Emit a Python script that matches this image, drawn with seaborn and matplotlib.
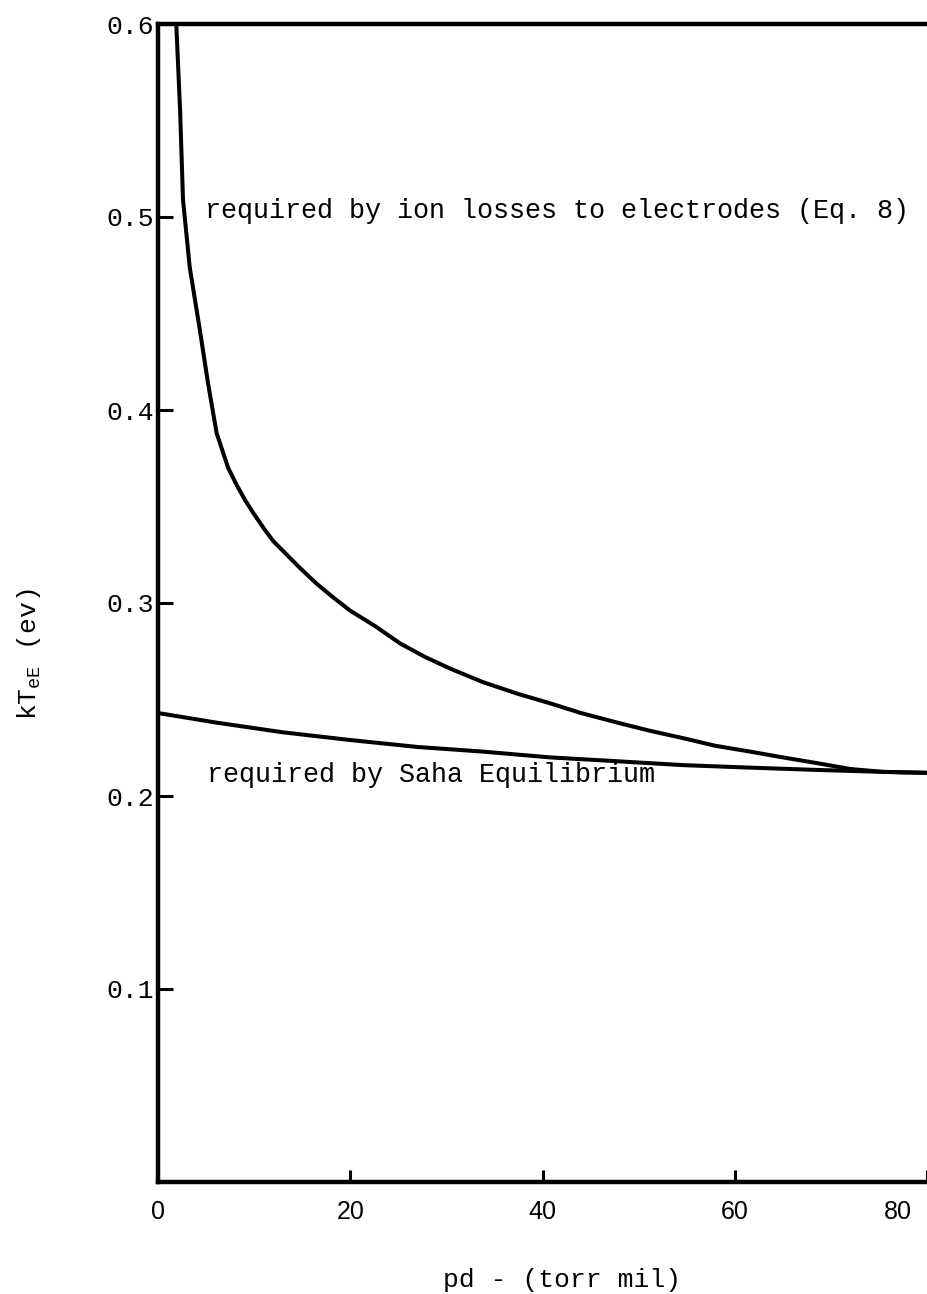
import numpy as np
import pandas as pd
import matplotlib
matplotlib.use("Agg")
import matplotlib.pyplot as plt
import matplotlib.transforms as mtransforms
import seaborn as sns

# ---- data ----
ion_pd = [1.9, 2.3, 2.6, 3.3, 4.4, 5.2, 6.1, 7.3, 8.2, 9.1, 10.0, 11.1, 12.0,
          13.0, 14.8, 16.5, 18.2, 20.0, 22.6, 25.2, 27.8, 30.4, 33.8, 37.4,
          40.8, 44.0, 47.8, 51.0, 54.6, 58.0, 61.6, 65.0, 68.6, 72.0, 75.4, 80.0]
ion_kt = [0.600, 0.555, 0.509, 0.474, 0.440, 0.414, 0.388, 0.370, 0.361, 0.353,
          0.346, 0.338, 0.332, 0.327, 0.318, 0.310, 0.303, 0.296, 0.288, 0.279,
          0.272, 0.266, 0.259, 0.253, 0.248, 0.243, 0.238, 0.234, 0.230, 0.226,
          0.223, 0.220, 0.217, 0.214, 0.2125, 0.212]

saha_pd = [0.0, 6.1, 13.0, 20.0, 27.0, 33.8, 40.8, 47.8, 54.6, 61.6, 68.6, 75.4, 80.0]
saha_kt = [0.243, 0.238, 0.233, 0.229, 0.2254, 0.223, 0.220, 0.218, 0.216,
           0.2147, 0.2135, 0.2125, 0.212]

x_ticks = [0, 20, 40, 60, 80]
x_tick_labels = ["0", "20", "40", "60", "80"]
y_ticks = [0.1, 0.2, 0.3, 0.4, 0.5, 0.6]
y_tick_labels = ["0.1", "0.2", "0.3", "0.4", "0.5", "0.6"]

ion_label = "required by ion losses to electrodes (Eq. 8)"
saha_label = "required by Saha Equilibrium"
x_title = "pd - (torr mil)"
y_title = r"kT$_{\rm eE}$ (ev)"

# ---- styling ----
sns.set_theme(style="white")
plt.rcParams["font.family"] = ["Liberation Mono", "DejaVu Sans"]
plt.rcParams["mathtext.fontset"] = "custom"
plt.rcParams["mathtext.rm"] = "Liberation Mono"
plt.rcParams["mathtext.it"] = "Liberation Mono"
plt.rcParams["mathtext.bf"] = "Liberation Mono:bold"
plt.rcParams["mathtext.default"] = "rm"
plt.rcParams["text.color"] = "black"
plt.rcParams["axes.labelcolor"] = "black"
plt.rcParams["xtick.color"] = "black"
plt.rcParams["ytick.color"] = "black"

df = pd.concat([
    pd.DataFrame({"pd": ion_pd, "kT": ion_kt, "curve": "ion"}),
    pd.DataFrame({"pd": saha_pd, "kT": saha_kt, "curve": "saha"}),
], ignore_index=True)

W, H = 927, 1294
fig = plt.figure(figsize=(W / 100, H / 100), dpi=100)
fig.patch.set_facecolor("white")
ax = fig.add_axes([158 / W, 112 / H, 769 / W, 1158 / H])
ax.set_facecolor("white")

sns.lineplot(data=df, x="pd", y="kT", units="curve", estimator=None, sort=False,
             color="black", linewidth=2.9, ax=ax, legend=False)
for line in ax.get_lines():
    line.set_solid_joinstyle("round")
    line.set_solid_capstyle("round")

ax.set_xlim(0, 80)
ax.set_ylim(0, 0.6)

for side in ["left", "top", "bottom"]:
    ax.spines[side].set_visible(True)
    ax.spines[side].set_color("black")
    ax.spines[side].set_linewidth(3.2)
ax.spines["right"].set_visible(False)

ax.set_xticks(x_ticks)
ax.set_xticklabels(x_tick_labels)
ax.set_yticks(y_ticks)
ax.set_yticklabels(y_tick_labels)

ax.tick_params(axis="y", direction="in", length=11, width=2.2, pad=3,
               labelsize=19, left=True, right=False)
ax.tick_params(axis="x", direction="in", length=9, width=2.2, pad=13,
               labelsize=18, bottom=True, top=False)

for lab in ax.get_xticklabels():
    lab.set_fontfamily("Liberation Sans")
    lab.set_fontsize(18)

# last x tick label sits a little left of its tick in the reference
last = ax.xaxis.get_major_ticks()[-1]
last.label1.set_transform(last.label1.get_transform() +
                          mtransforms.ScaledTranslation(-29 / 100, 0, fig.dpi_scale_trans))

ax.set_xlabel(x_title, fontsize=19, va="center")
ax.xaxis.set_label_coords(0.525, -0.0846)
ax.set_ylabel(y_title, fontsize=19, va="center", ha="center")
ax.yaxis.set_label_coords(-0.168, 0.456)

ax.text(4.9, 0.503, ion_label, ha="left", va="center", fontsize=19.3)
ax.text(5.1, 0.211, saha_label, ha="left", va="center", fontsize=19.3)

fig.savefig("out.png", dpi=100, facecolor="white")
